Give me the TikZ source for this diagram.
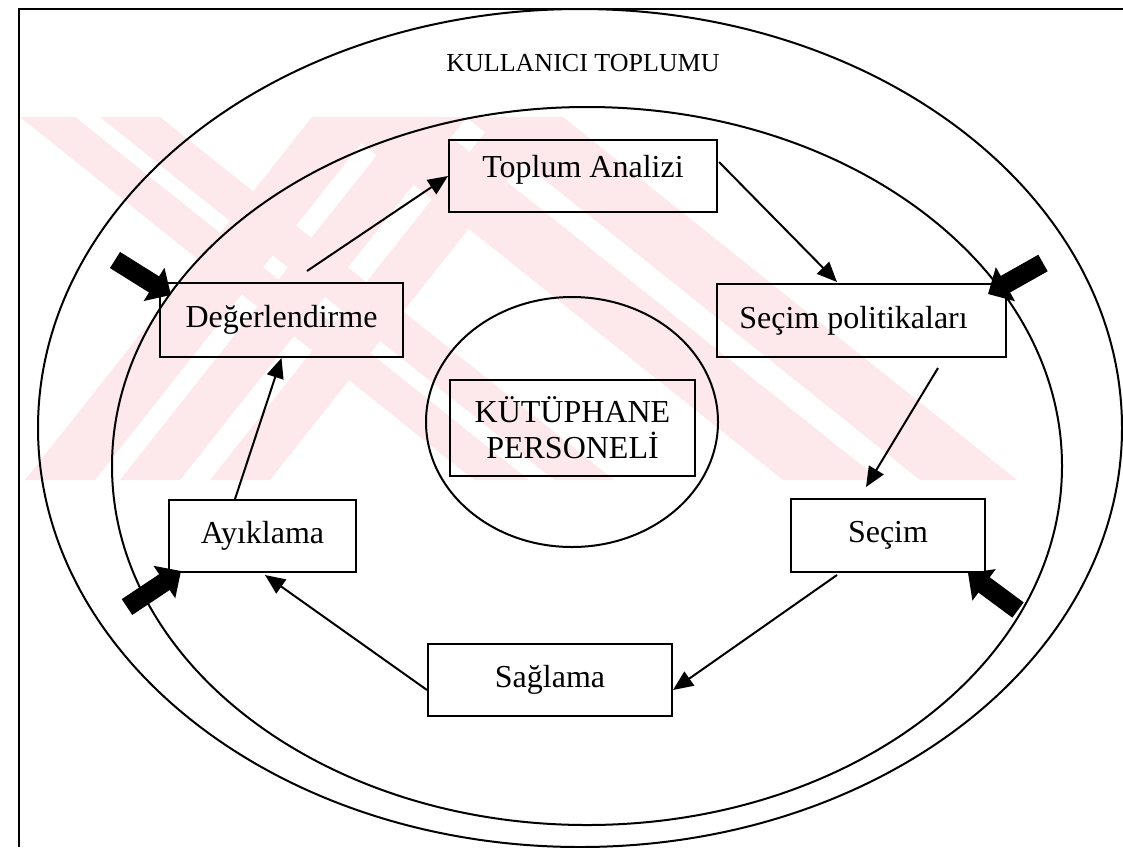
\documentclass[tikz,border=0pt]{standalone}
\usepackage{fontspec}
\setmainfont{Liberation Serif}
\usetikzlibrary{arrows.meta,calc}
\definecolor{wm}{HTML}{FDE8EC}
\begin{document}
\begin{tikzpicture}[x=1pt,y=-1pt,
  box/.style={draw,line width=2pt,inner sep=0pt,font=\fontsize{32}{36}\selectfont},
  flow/.style={line width=2pt,-{Triangle[length=20pt,width=17pt]}},
  big/.style={line width=19pt,-{Triangle[length=20pt,width=38pt]}},
  ring/.style={line width=2pt},
  frame/.style={line width=2pt},
  mark/.style={fill=wm}]
\useasboundingbox (0,0) rectangle (1123,847);
\clip (0,0) rectangle (1123,847);
\fill[white] (0,0) rectangle (1123,847);
% faint watermark
\begin{scope}
\clip (20,117) rectangle (1060,480);
\fill[wm] (312,117) -- (382,117) -- (95,480) -- (25,480) -- cycle;
\fill[wm] (407,117) -- (467,117) -- (180,480) -- (120,480) -- cycle;
\fill[wm] (497,117) -- (557,117) -- (270,480) -- (210,480) -- cycle;
\fill[wm] (329,117) -- (426,117) -- (880,480) -- (783,480) -- cycle;
\fill[wm] (466,117) -- (563,117) -- (1017,480) -- (920,480) -- cycle;
\fill[wm] (20,117) -- (75,117) -- (529,480) -- (474,480) -- cycle;
\fill[wm] (100,117) -- (160,117) -- (614,480) -- (554,480) -- cycle;
\end{scope}
% frame
\draw[frame] (19,847) -- (19,9) -- (1123,9);
% ellipses
\draw[ring] (580,428) ellipse [x radius=542pt, y radius=419pt];
\draw[ring] (587,466) ellipse [x radius=475pt, y radius=359pt];
\draw[ring] (572,422) ellipse [x radius=146pt, y radius=125pt];
% texts and boxes
\node[font=\fontsize{26}{30}\selectfont] (kt) at (583,63) {KULLANICI TOPLUMU};
\node[box,minimum width=268pt,minimum height=72pt] (toplum) at (583,176) {Toplum Analizi\rule[-19pt]{0pt}{0pt}};
\node[box,minimum width=289pt,minimum height=73pt] (secpol) at (861.5,320.5) {Seçim politikaları\hspace*{16pt}};
\node[box,minimum width=194pt,minimum height=73pt] (secim) at (888,535.5) {Seçim};
\node[box,minimum width=244pt,minimum height=72pt] (sagl) at (550,680) {Sağlama};
\node[box,minimum width=187pt,minimum height=72pt] (ayik) at (262.5,536) {Ayıklama};
\node[box,minimum width=243pt,minimum height=74pt] (deg) at (281.5,320) {Değerlendirme};
\node[box,line width=1.5pt,minimum width=245pt,minimum height=96pt,align=center,font=\fontsize{32}{36}\selectfont] (pers) at (572.5,428) {KÜTÜPHANE\\PERSONELİ};
% cycle arrows
\draw[flow] ($(deg.north)+(25.5,-11)$) -- (toplum.west);
\draw[flow] ($(toplum.north east)+(1,23)$) -- ($(secpol.north)+(-24.5,-1)$);
\draw[flow] ($(secpol.south)+(76.5,10)$) -- ($(secim.north)+(-22,-11)$);
\draw[flow] ($(secim.south)+(-51,2)$) -- ($(sagl.east)+(0,10)$);
\draw[flow] ($(sagl.west)+(0,10)$) -- ($(ayik.south)+(2.5,2)$);
\draw[flow] ($(ayik.north)+(-27.5,0)$) -- (deg.south);
% thick arrows
\coordinate (ta) at (115,260);
\coordinate (tb) at (1043,263);
\coordinate (tc) at (1018,610);
\coordinate (td) at (127,607);
\draw[big] (ta) -- ($(deg.north west)+(12,13)$);
\draw[big] (tb) -- ($(secpol.north east)+(-19,11)$);
\draw[big] (tc) -- ($(secim.south east)+(-18,0)$);
\draw[big] (td) -- ($(ayik.south west)+(13,-2)$);
\end{tikzpicture}
\end{document}
